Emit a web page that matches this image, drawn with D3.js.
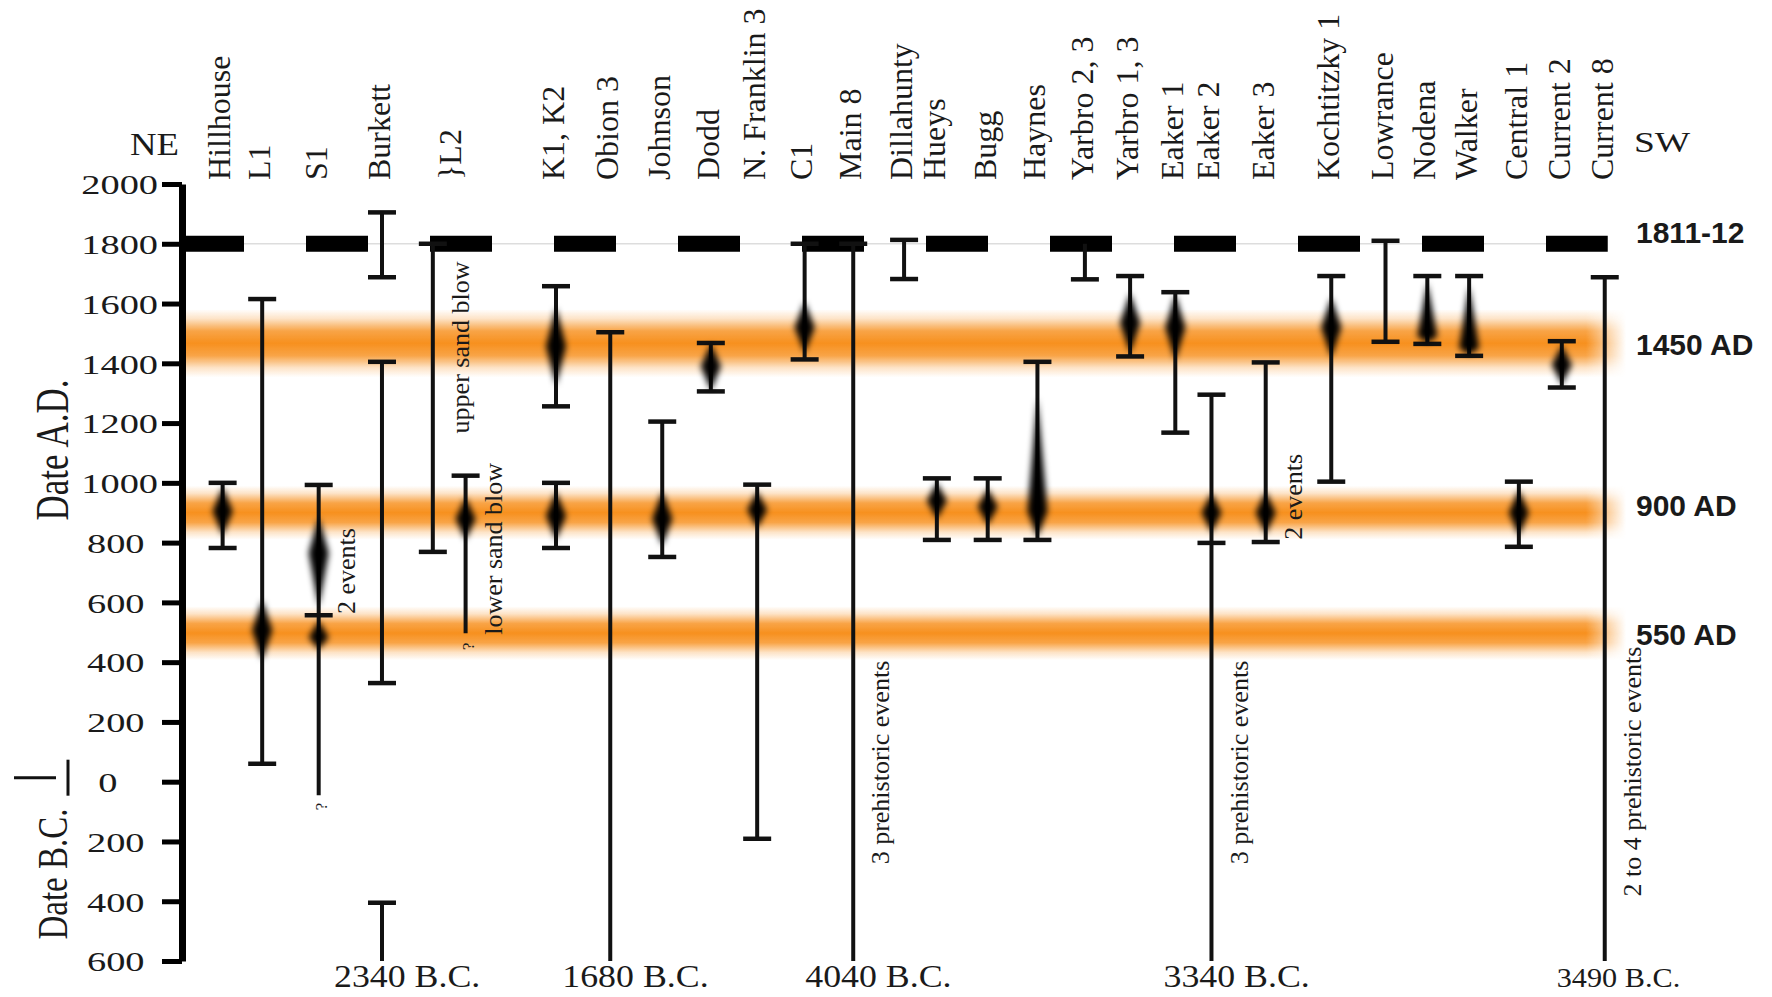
<!DOCTYPE html>
<html>
<head>
<meta charset="utf-8">
<script src="https://cdn.jsdelivr.net/npm/d3@7"></script>
<style>
  body { margin: 0; background: #fff; }
  svg { display: block; }
  text { font-family: "Liberation Serif", "Times New Roman", serif; fill: #1a1a1a; }
</style>
</head>
<body>
<svg id="chart"></svg>
<script>
const W = 1772, H = 997;

// sites, NE to SW
const sites = ["Hillhouse", "L1", "S1", "Burkett", "}L2", "K1, K2", "Obion 3", "Johnson", "Dodd",
  "N. Franklin 3", "C1", "Main 8", "Dillahunty", "Hueys", "Bugg", "Haynes", "Yarbro 2, 3",
  "Yarbro 1, 3", "Eaker 1", "Eaker 2", "Eaker 3", "Kochtitzky 1", "Lowrance", "Nodena",
  "Walker", "Central 1", "Current 2", "Current 8"];
// position along the transect (arbitrary units)
const sitePos = [19.7, 23.2, 28.2, 33.8, 38.3, 49.2, 54.0, 58.6, 62.9, 67.0, 71.2, 75.5, 80.0,
  82.9, 87.4, 91.8, 96.0, 100.0, 104.0, 107.2, 112.0, 117.8, 122.6, 126.3, 130.0, 134.4, 138.2, 142.0];

const yearTicks = [2000, 1800, 1600, 1400, 1200, 1000, 800, 600, 400, 200, 0, -200, -400, -600];

// age ranges: [site, shift, top year, bottom year, cap on top, cap on bottom]
const ranges = [
  [0, 0, 1000, 782, 1, 1],
  [1, 0, 1615, 60, 1, 1],
  [2, 0, 993, -45, 1, 0],
  [3, 0, 1905, 1688, 1, 1],
  [3, 0, 1405, 330, 1, 1],
  [3, 0, -405, -600, 1, 0],
  [4, 0, 1800, 769, 1, 1],
  [4, 2.9, 1024, 497, 1, 0],
  [5, 0, 1658, 1256, 1, 1],
  [5, 0, 1000, 782, 1, 1],
  [6, 0, 1504, -600, 1, 0],
  [7, 0, 1205, 752, 1, 1],
  [8, 0, 1468, 1306, 1, 1],
  [9, 0, 994, -191, 1, 1],
  [10, 0, 1800, 1413, 1, 1],
  [11, 0, 1800, -600, 1, 0],
  [12, 0, 1813, 1682, 1, 1],
  [13, 0, 1015, 809, 1, 1],
  [14, 0, 1015, 809, 1, 1],
  [15, 0, 1405, 809, 1, 1],
  [16, 0, 1800, 1681, 0, 1],
  [17, 0, 1692, 1423, 1, 1],
  [18, 0, 1638, 1168, 1, 1],
  [19, 0, 1295, -600, 1, 0],
  [20, 0, 1403, 802, 1, 1],
  [21, 0, 1692, 1004, 1, 1],
  [22, 0, 1810, 1472, 1, 1],
  [23, 0, 1692, 1465, 1, 1],
  [24, 0, 1692, 1425, 1, 1],
  [25, 0, 1004, 786, 1, 1],
  [26, 0, 1474, 1319, 1, 1],
  [27, 0, 1688, -600, 1, 0]
];
const extraCaps = [[2, 0, 557], [19, 0, 799]];

// most likely ages: [site, shift, peak year, spread above, spread below]
const peaks = [
  [0, 0, 905, 80, 80],
  [1, 0, 507, 100, 100],
  [2, 0, 765, 120, 180],
  [2, 0, 483, 55, 40],
  [4, 2.9, 880, 70, 70],
  [5, 0, 1457, 130, 130],
  [5, 0, 890, 80, 80],
  [7, 0, 880, 90, 90],
  [8, 0, 1390, 75, 80],
  [9, 0, 910, 60, 60],
  [10, 0, 1520, 85, 85],
  [13, 0, 940, 60, 60],
  [14, 0, 920, 60, 60],
  [15, 0, 905, 380, 85],
  [17, 0, 1535, 100, 100],
  [18, 0, 1520, 110, 110],
  [19, 0, 900, 65, 65],
  [20, 0, 900, 70, 70],
  [21, 0, 1520, 100, 100],
  [23, 0, 1490, 180, 20],
  [24, 0, 1450, 210, 20],
  [25, 0, 900, 75, 75],
  [26, 0, 1395, 65, 65]
];

// annotations: [site, shift, year, text]
const notes = [
  [2, 0, 705, "2 events"],
  [4, 0, 1453, "upper sand blow"],
  [4, 2.9, 779, "lower sand blow"],
  [11, 0, 64, "3 prehistoric events"],
  [19, 0, 64, "3 prehistoric events"],
  [20, 0, 953, "2 events"],
  [27, 0, 34, "2 to 4 prehistoric events"]
];
const queries = [[2, 0, -83], [4, 2.9, 453]];

// oldest limits below the frame
const bcSite = [3, 6, 11, 19, 27];
const bcText = ["2340 B.C.", "1680 B.C.", "4040 B.C.", "3340 B.C.", "3490 B.C."];

// earthquake episodes
const bandYear = [1467, 900, 497];
const bandHalf = [114, 90, 90];
const bandLabel = ["1450 AD", "900 AD", "550 AD"];
const quakeYear = 1800, quakeLabel = "1811-12";

const svg = d3.select("#chart").attr("width", W).attr("height", H);

const x = d3.scaleLinear().domain([0, 156.8]).range([0, W]);
const y = d3.scaleLinear().domain([2000, -600]).range([184, 961]);
const axisX = 182, bandEnd = 1626;
const px = (s, shift) => x(sitePos[s] + shift);

const defs = svg.append("defs");
const grad = defs.append("linearGradient").attr("id", "bandGrad")
  .attr("x1", 0).attr("y1", 0).attr("x2", 0).attr("y2", 1);
[[0, 0], [0.14, 0.25], [0.32, 0.82], [0.5, 1], [0.68, 0.82], [0.86, 0.25], [1, 0]].forEach(s => {
  grad.append("stop").attr("offset", s[0]).attr("stop-color", "#f7901e").attr("stop-opacity", s[1]);
});
const fade = defs.append("linearGradient").attr("id", "fadeGrad")
  .attr("gradientUnits", "userSpaceOnUse")
  .attr("x1", bandEnd - 40).attr("x2", bandEnd).attr("y1", 0).attr("y2", 0);
fade.append("stop").attr("offset", 0).attr("stop-color", "#fff");
fade.append("stop").attr("offset", 1).attr("stop-color", "#000");
defs.append("mask").attr("id", "fadeMask").attr("maskUnits", "userSpaceOnUse")
  .attr("x", 0).attr("y", 0).attr("width", W).attr("height", H)
  .append("rect").attr("x", 0).attr("y", 0).attr("width", W).attr("height", H)
  .attr("fill", "url(#fadeGrad)");
defs.append("filter").attr("id", "soft")
  .attr("x", "-150%").attr("y", "-30%").attr("width", "400%").attr("height", "160%")
  .append("feGaussianBlur").attr("stdDeviation", 3);

// orange bands
svg.append("g").attr("mask", "url(#fadeMask)")
  .selectAll("rect").data(bandYear).join("rect")
  .attr("x", axisX).attr("width", bandEnd - axisX)
  .attr("y", (d, i) => y(d + bandHalf[i]))
  .attr("height", (d, i) => y(d - bandHalf[i]) - y(d + bandHalf[i]))
  .attr("fill", "url(#bandGrad)");

// 1811-12 line
svg.append("line")
  .attr("x1", axisX).attr("x2", px(27, 0)).attr("y1", y(quakeYear)).attr("y2", y(quakeYear))
  .attr("stroke", "#ddd").attr("stroke-width", 1.5);
svg.append("line")
  .attr("x1", axisX).attr("x2", px(27, 0) + 3).attr("y1", y(quakeYear)).attr("y2", y(quakeYear))
  .attr("stroke", "#000").attr("stroke-width", 16).attr("stroke-dasharray", "62 62");

// ranges
const gR = svg.append("g").attr("stroke", "#111");
gR.selectAll("line.bar").data(ranges).join("line").attr("class", "bar")
  .attr("x1", d => px(d[0], d[1])).attr("x2", d => px(d[0], d[1]))
  .attr("y1", d => y(d[2])).attr("y2", d => y(d[3]))
  .attr("stroke-width", 4);
const caps = [];
ranges.forEach(d => {
  if (d[4]) caps.push([d[0], d[1], d[2]]);
  if (d[5]) caps.push([d[0], d[1], d[3]]);
});
extraCaps.forEach(d => caps.push(d));
gR.selectAll("line.cap").data(caps).join("line").attr("class", "cap")
  .attr("x1", d => px(d[0], d[1]) - 14).attr("x2", d => px(d[0], d[1]) + 14)
  .attr("y1", d => y(d[2])).attr("y2", d => y(d[2]))
  .attr("stroke-width", 4.5);

// blurred spindles for most likely ages
svg.append("g").attr("filter", "url(#soft)")
  .selectAll("path").data(peaks).join("path")
  .attr("d", d => {
    const cx = px(d[0], d[1]), hw = 10;
    return `M${cx},${y(d[2] + d[3])}L${cx + hw},${y(d[2])}L${cx},${y(d[2] - d[4])}L${cx - hw},${y(d[2])}Z`;
  })
  .attr("fill", "#000");

// y axis
const yAxis = d3.axisLeft(y).tickValues(yearTicks).tickSize(20).tickSizeOuter(0)
  .tickFormat(d => String(Math.abs(d)));
const gA = svg.append("g").attr("transform", `translate(${axisX},0)`).call(yAxis);
gA.select(".domain").attr("stroke", "#000").attr("stroke-width", 7);
gA.selectAll(".tick line").attr("stroke", "#000").attr("stroke-width", 5);
gA.selectAll(".tick text")
  .attr("x", null).attr("dy", "0.35em")
  .attr("text-anchor", "end")
  .attr("transform", d => `translate(${-24 - 13.5 * (4 - String(Math.abs(d)).length)},0) scale(1.37,1)`)
  .style("font-size", "28px").style("font-family", "'Liberation Serif', serif").attr("fill", "#1a1a1a");

// axis titles
svg.append("text").attr("transform", `translate(52,450) rotate(-90) scale(1,1.3)`)
  .attr("text-anchor", "middle").attr("dy", "0.35em").style("font-size", "35px").text("Date A.D.");
svg.append("text").attr("transform", `translate(52,874) rotate(-90) scale(1,1.3)`)
  .attr("text-anchor", "middle").attr("dy", "0.35em").style("font-size", "33px").text("Date B.C.");
svg.append("line").attr("x1", 14).attr("x2", 56).attr("y1", y(0) - 4).attr("y2", y(0) - 4)
  .attr("stroke", "#111").attr("stroke-width", 3);
svg.append("line").attr("x1", 68).attr("x2", 68).attr("y1", y(0) - 22).attr("y2", y(0) + 14)
  .attr("stroke", "#111").attr("stroke-width", 3);

// NE / SW
svg.append("text").attr("transform", "translate(130,155) scale(1.15,1)")
  .style("font-size", "32px").text("NE");
svg.append("text").attr("transform", "translate(1634,152) scale(1.25,1)")
  .style("font-size", "30px").text("SW");

// site labels
svg.append("g").selectAll("text").data(sites).join("text")
  .attr("transform", (d, i) => `translate(${px(i, i === 4 ? 1.5 : -0.3)},180) rotate(-90)`)
  .attr("dy", "0.35em")
  .style("font-size", "32px")
  .text(d => d);

// annotations
svg.append("g").selectAll("text").data(notes).join("text")
  .attr("transform", d => `translate(${px(d[0], d[1]) + 27},${y(d[2])}) rotate(-90)`)
  .attr("text-anchor", "middle").attr("dy", "0.35em")
  .style("font-size", "26px").attr("fill", "#333")
  .text(d => d[3]);
svg.append("g").selectAll("text").data(queries).join("text")
  .attr("transform", d => `translate(${px(d[0], d[1]) + 2},${y(d[2])}) rotate(-90)`)
  .attr("text-anchor", "middle").attr("dy", "0.35em")
  .style("font-size", "17px").attr("fill", "#444")
  .text("?");

// B.C. limits
svg.append("g").selectAll("text").data(bcSite).join("text")
  .attr("transform", (d, i) => `translate(${px(d, 0) - 48},987) scale(1.12,1)`)
  .style("font-size", (d, i) => i === 4 ? "27px" : "32px")
  .text((d, i) => bcText[i]);

// right-hand labels
const lab = svg.append("g").style("font-family", "'Liberation Sans', Arial, sans-serif")
  .style("font-weight", "bold").style("font-size", "30px");
lab.append("text").attr("x", 1636).attr("y", y(quakeYear) - 11).attr("dy", "0.35em")
  .style("font-family", "inherit").attr("fill", "#000").text(quakeLabel);
lab.selectAll("text.band").data(bandYear).join("text").attr("class", "band")
  .attr("x", 1636).attr("y", (d, i) => y(d) + (i === 1 ? -7 : 1)).attr("dy", "0.35em")
  .style("font-family", "inherit").attr("fill", "#000")
  .text((d, i) => bandLabel[i]);
</script>
</body>
</html>
